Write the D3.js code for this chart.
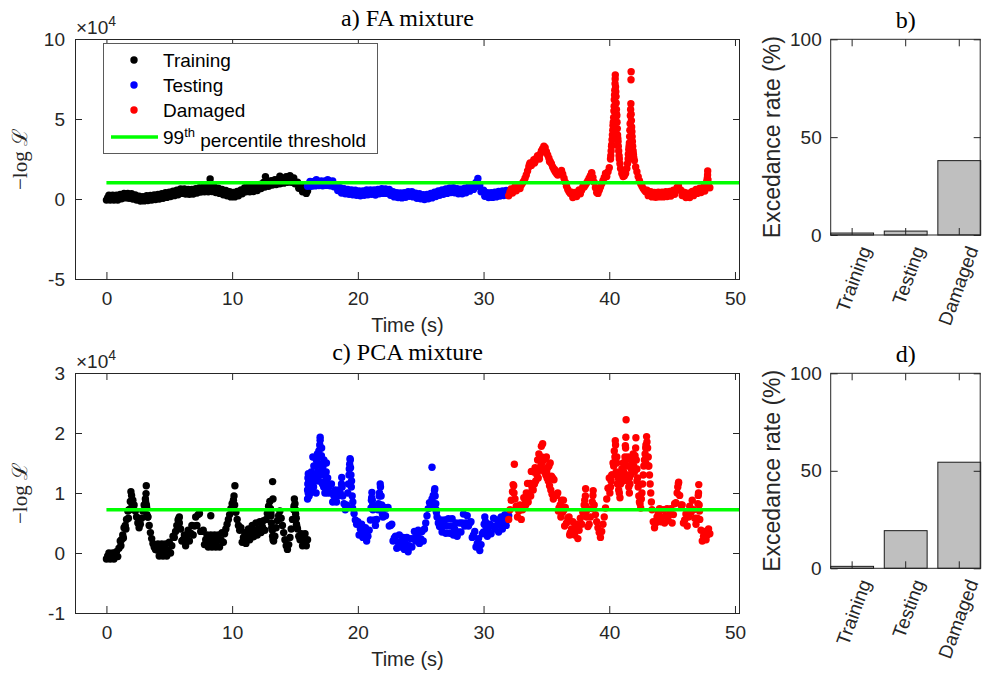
<!DOCTYPE html>
<html>
<head>
<meta charset="utf-8">
<script src="https://cdn.jsdelivr.net/npm/d3@7"></script>
<style>
  body { margin: 0; background: #fff; }
  svg { display: block; }
  .tick text { font-family: "Liberation Sans", Arial, Helvetica, sans-serif; font-size: 19px; fill: #262626; }
</style>
</head>
<body>
<svg id="fig" width="982" height="683"></svg>
<script>
// ---- axis ticks and categories ----
const timeTicks = [0, 10, 20, 30, 40, 50];
const faTicks = [-5, 0, 5, 10];
const pcaTicks = [-1, 0, 1, 2, 3];
const rateTicks = [0, 50, 100];
const groups = ["Training", "Testing", "Damaged"];
const segmentStart = { Training: 0, Testing: 16, Damaged: 32 };   // s
const sampleStep = 0.1;                                           // s

// ---- exceedance rates (%) ----
const faRates = [1, 2, 38];
const pcaRates = [1, 19.3, 54.4];

// ---- 99th percentile thresholds (x 10^4) ----
const faThreshold = 1.02;
const pcaThreshold = 0.72;

// ---- FA mixture: -log L (x 10^4), one value per 0.1 s ----
const faTrainingSamples = [
  -0.07,0.08,0.23,-0.07,0.08,0.23,-0.07,0.08,0.23,-0.07,
  0.12,0.29,0.01,0.18,0.35,0.07,0.22,0.35,0.05,0.2,
  0.33,0.0,0.12,0.25,-0.07,0.05,0.18,-0.13,0.0,0.15,
  -0.12,0.04,0.2,-0.1,0.06,0.22,-0.07,0.09,0.25,-0.03,
  0.13,0.29,0.0,0.17,0.33,0.05,0.22,0.39,0.1,0.27,
  0.43,0.15,0.32,0.49,0.21,0.38,0.55,0.27,0.45,0.63,
  0.35,0.5,0.63,0.31,0.46,0.6,0.29,0.44,0.6,0.31,
  0.48,0.65,0.37,0.54,0.71,0.43,0.58,0.73,0.45,0.6,
  0.75,0.45,0.6,0.77,0.47,0.6,0.73,0.41,0.54,0.67,
  0.35,0.48,0.6,0.27,0.4,0.53,0.2,0.32,0.45,0.13,
  0.26,0.41,0.13,0.3,0.47,0.2,0.38,0.57,0.33,0.52,
  0.71,0.45,0.62,0.77,0.45,0.58,0.75,0.47,0.64,0.81,
  0.53,0.72,0.91,0.65,0.84,1.03,0.75,0.9,1.07,0.8,
  0.98,1.15,0.87,1.04,1.2,0.91,1.08,1.25,0.95,1.1,
  1.27,0.99,1.16,1.33,1.05,1.2,1.35,1.05,1.18,1.31,
  0.95,1.0,1.05,0.67,0.74,0.81,0.45,0.56,0.67,0.35,
  0.5
];
const faTrainingExtra = [[8.25,1.25],[12.65,1.4],[13.8,1.42],[14.3,1.4],[14.6,1.45]];

const faTestingSamples = [
  0.8,0.95,1.1,0.8,0.95,1.1,0.82,0.97,1.12,0.84,
  0.98,1.13,0.83,0.98,1.13,0.85,1.0,1.15,0.83,0.98,
  1.13,0.77,0.85,0.9,0.53,0.62,0.71,0.37,0.5,0.65,
  0.33,0.46,0.6,0.29,0.43,0.57,0.27,0.42,0.55,0.23,
  0.36,0.5,0.2,0.36,0.51,0.23,0.4,0.57,0.27,0.42,
  0.57,0.29,0.44,0.57,0.25,0.42,0.6,0.33,0.5,0.65,
  0.35,0.48,0.63,0.35,0.48,0.59,0.23,0.32,0.45,0.13,
  0.26,0.4,0.09,0.24,0.38,0.07,0.22,0.39,0.11,0.28,
  0.45,0.17,0.32,0.45,0.13,0.25,0.37,0.05,0.2,0.33,
  0.01,0.14,0.27,-0.03,0.12,0.29,0.01,0.18,0.35,0.07,
  0.25,0.43,0.15,0.32,0.5,0.23,0.4,0.57,0.29,0.46,
  0.63,0.35,0.52,0.69,0.4,0.55,0.7,0.39,0.52,0.65,
  0.33,0.46,0.61,0.33,0.5,0.67,0.39,0.56,0.75,0.49,
  0.68,0.87,0.6,0.8,1.03,0.8,0.85,0.87,0.45,0.5,
  0.55,0.17,0.26,0.39,0.09,0.24,0.39,0.1,0.26,0.42,
  0.13,0.3,0.47,0.19,0.35,0.51,0.22,0.38,0.54,0.25,
  0.4
];
const faTestingExtra = [[16.7,1.2],[17.6,1.2],[29.55,1.28]];

const faDamagedSamples = [
  0.2,0.42,0.63,0.37,0.58,0.77,0.51,0.7,0.9,0.65,
  0.88,1.0,1.12,1.3,1.5,1.75,2.0,2.25,2.1,2.3,
  2.45,2.35,2.55,2.7,2.6,2.8,3.0,3.15,3.3,3.2,
  2.95,2.75,2.55,2.35,2.2,2.0,1.85,1.7,1.6,1.5,
  1.55,1.65,1.72,1.55,1.3,1.05,0.8,0.6,0.45,0.35,
  0.43,0.09,0.24,0.41,0.15,0.36,0.57,0.33,0.55,0.77,
  0.75,0.88,1.0,1.15,1.3,1.45,1.6,1.35,1.05,0.7,
  0.4,0.35,0.55,0.75,0.95,1.15,1.35,1.6,1.4,1.7,
  1.95,2.5,3.4,4.6,6.2,7.0,5.2,3.6,2.5,1.9,
  1.6,1.4,1.45,1.6,1.9,2.5,3.5,5.6,4.2,3.0,
  2.4,2.0,1.7,1.4,1.15,0.95,0.8,0.65,0.55,0.45,
  0.55,0.21,0.32,0.45,0.13,0.26,0.41,0.11,0.27,0.43,
  0.13,0.28,0.43,0.13,0.28,0.45,0.15,0.3,0.47,0.19,
  0.36,0.55,0.3,0.5,0.72,0.85,0.6,0.55,0.22,0.3,
  0.41,0.09,0.22,0.37,0.09,0.28,0.47,0.21,0.4,0.6,
  0.35,0.52,0.67,0.4,0.58,0.75,0.5,0.9,1.3,0.95,
  0.7
];
const faDamagedExtra = [
  [40.12,2.7],[40.15,3.0],[40.18,3.3],[40.22,3.7],[40.25,4.0],[40.28,4.3],[40.32,4.8],[40.35,5.1],[40.37,5.5],[40.39,5.8],
  [40.42,6.5],[40.44,6.8],[40.46,7.2],[40.47,7.5],[40.48,7.75],[40.52,6.7],[40.54,6.4],[40.55,6.0],[40.57,5.6],[40.58,5.3],
  [40.62,4.8],[40.64,4.4],[40.66,4.0],[40.68,3.8],[40.72,3.3],[40.75,3.0],[40.78,2.7],[40.85,2.2],
  [41.45,2.2],[41.52,2.8],[41.55,3.1],[41.58,3.3],[41.62,3.9],[41.64,4.3],[41.66,4.7],[41.68,5.2],[41.72,5.95],
  [41.73,7.45],[41.74,7.95],[41.74,5.3],[41.76,4.9],[41.78,4.5],[41.82,3.9],[41.84,3.6],[41.86,3.3],[41.92,2.8],[41.95,2.6],
  [47.75,1.1],[47.82,1.5],[47.83,1.75],[47.85,1.2],[36.2,1.78],[38.6,1.65],
  [33.65,2.15],[34.05,2.25],[34.45,2.5],[34.85,2.95],[35.25,2.35],[35.65,1.85]
];

// ---- PCA mixture: -log L (x 10^4), one value per 0.1 s ----
const pcaTrainingSamples = [
  -0.1,-0.05,0.0,-0.1,-0.05,0.0,-0.1,-0.05,0.02,-0.06,
  0.08,0.2,0.22,0.3,0.42,0.46,0.56,0.7,0.72,0.86,
  0.96,0.88,0.8,0.7,0.6,0.5,0.42,0.48,0.58,0.7,
  0.8,0.9,0.76,0.6,0.46,0.34,0.24,0.16,0.1,0.06,
  0.05,0.15,-0.05,0.05,0.15,-0.05,0.05,0.15,-0.05,0.05,
  0.18,0.0,0.12,0.28,0.26,0.36,0.46,0.55,0.5,0.4,
  0.2,0.22,0.3,0.12,0.25,0.38,0.2,0.33,0.46,0.3,
  0.45,0.6,0.46,0.64,0.66,0.36,0.36,0.38,0.14,0.22,
  0.3,0.1,0.2,0.3,0.1,0.2,0.3,0.1,0.2,0.3,
  0.1,0.22,0.34,0.18,0.32,0.4,0.48,0.56,0.64,0.74,
  0.82,0.88,0.8,0.68,0.56,0.46,0.38,0.42,0.18,0.26,
  0.34,0.16,0.28,0.4,0.22,0.34,0.46,0.27,0.38,0.5,
  0.3,0.4,0.52,0.34,0.44,0.54,0.38,0.56,0.66,0.78,
  0.86,0.62,0.38,0.2,0.28,0.42,0.54,0.62,0.7,0.58,
  0.46,0.34,0.22,0.12,0.06,0.14,0.26,0.4,0.56,0.72,
  0.82,0.58,0.4,0.28,0.22,0.32,0.12,0.22,0.32,0.12,
  0.22
];
const pcaTrainingExtra = [
  [1.15,0.12],[1.35,0.25],[1.55,0.4],[1.75,0.58],[1.85,0.72],[1.95,1.02],[1.98,0.75],[2.05,0.88],
  [3.12,0.85],[3.15,0.99],[3.17,1.12],[3.18,0.8],[3.22,0.64],[3.28,0.6],[5.75,0.57],[5.8,0.6],[8.3,0.62],
  [10.15,0.95],[10.22,1.12],[13.05,0.74],[13.08,0.68],[13.12,0.5],[13.15,0.42],[13.22,1.19],[13.25,0.9],
  [13.22,0.28],[13.25,0.22],[14.92,0.78],[14.95,0.9],[15.03,0.72],[15.05,0.65],[15.12,0.48],[15.15,0.44]
];

const pcaTestingSamples = [
  0.9,1.2,1.05,1.35,1.15,1.45,1.25,1.55,1.35,1.7,
  1.88,1.62,1.42,1.55,1.3,1.5,1.25,1.1,1.0,1.15,
  0.85,0.95,1.05,0.85,0.95,1.05,1.0,1.15,0.95,0.82,
  0.72,0.8,1.0,1.3,1.55,1.2,0.85,0.66,0.55,0.48,
  0.52,0.3,0.4,0.48,0.26,0.34,0.42,0.2,0.28,0.38,
  0.55,0.92,0.72,0.55,0.46,0.56,0.72,0.95,1.1,0.8,
  0.6,0.76,0.62,0.75,0.76,0.45,0.46,0.48,0.2,0.25,
  0.28,0.08,0.18,0.3,0.1,0.2,0.26,0.06,0.16,0.26,
  0.02,0.12,0.24,0.1,0.24,0.36,0.2,0.3,0.38,0.16,
  0.24,0.36,0.2,0.4,0.5,0.62,0.74,0.84,0.8,0.9,
  0.96,1.04,0.82,0.6,0.5,0.44,0.55,0.35,0.45,0.55,
  0.33,0.45,0.57,0.33,0.45,0.57,0.3,0.4,0.5,0.28,
  0.35,0.5,0.35,0.5,0.65,0.45,0.5,0.62,0.45,0.5,
  0.52,0.26,0.3,0.36,0.1,0.16,0.24,0.04,0.14,0.32,
  0.35,0.6,0.44,0.28,0.36,0.48,0.32,0.45,0.58,0.4,
  0.45,0.55,0.35,0.48,0.6,0.4,0.52,0.64,0.46,0.6,
  0.62
];
const pcaTestingExtra = [
  [16.0,1.05],[16.02,1.15],[16.03,1.25],[16.05,1.0],[16.06,1.32],[16.08,1.3],[16.12,0.95],[16.17,1.2],[16.22,1.0],[16.28,1.25],
  [16.32,1.05],[16.38,1.3],[16.42,1.6],[16.48,1.1],[16.52,1.3],[16.58,1.2],[16.62,1.45],[16.68,1.0],[16.72,1.3],[16.78,1.65],
  [16.82,1.5],[16.88,1.2],[16.92,1.6],[16.97,1.8],[17.0,1.93],[17.02,1.75],[17.05,1.45],[17.08,1.3],[17.12,1.75],[17.18,1.15],
  [17.22,1.45],[17.28,1.1],[17.32,1.35],[17.38,1.0],[17.42,1.2],[17.48,1.35],[17.52,1.1],[17.58,1.0],
  [18.72,1.26],[18.75,1.1],[19.25,1.15],[19.32,1.4],[19.35,1.48],[19.38,1.57],[19.42,1.42],[19.45,1.3],[19.48,1.1],[19.55,0.95],
  [19.58,0.75],[21.05,0.75],[21.08,0.88],[21.12,1.01],[21.15,0.88],[21.18,0.8],[21.65,0.82],[21.72,1.0],[21.78,1.15],[21.85,0.95],
  [21.92,0.7],[21.95,0.65],[25.9,1.43],[26.12,1.07],[26.15,0.95],[26.22,0.72],[26.25,0.68],[30.05,0.48],[30.15,0.52]
];

const pcaDamagedSamples = [
  0.56,0.72,0.88,1.02,1.12,0.9,0.78,0.6,0.7,0.8,
  0.56,0.72,0.92,0.82,1.0,1.16,0.94,1.16,1.36,1.12,
  1.35,1.42,1.35,1.55,1.65,1.55,1.78,1.82,1.55,1.58,
  1.6,1.42,1.45,1.5,1.28,1.25,1.22,0.95,0.96,1.0,
  0.75,0.8,0.88,0.68,0.72,0.76,0.5,0.58,0.6,0.34,
  0.4,0.52,0.36,0.44,0.48,0.24,0.38,0.58,0.48,0.68,
  0.8,0.95,0.6,0.44,0.48,0.6,0.74,0.96,0.8,0.64,
  0.52,0.42,0.34,0.26,0.36,0.48,0.6,0.75,0.9,1.08,
  1.25,1.1,1.3,1.5,1.7,1.8,1.5,1.25,1.0,1.15,
  1.4,1.2,1.45,1.75,1.45,1.2,1.0,1.3,1.55,1.35,
  1.6,1.75,1.4,1.1,0.85,0.75,1.0,1.3,1.55,1.75,
  1.85,1.6,1.3,1.0,0.72,0.52,0.42,0.5,0.6,0.66,
  0.74,0.52,0.6,0.72,0.5,0.62,0.74,0.54,0.64,0.74,
  0.5,0.64,0.82,0.84,1.0,1.16,0.96,0.8,0.8,0.5,
  0.55,0.65,0.45,0.6,0.78,0.68,0.88,0.72,0.58,0.48,
  0.58,1.0,0.56,0.38,0.2,0.28,0.36,0.22,0.3,0.4,
  0.32
];
const pcaDamagedExtra = [
  [32.45,1.48],[32.35,1.14],[32.42,1.0],
  [33.35,0.8],[33.45,0.9],[33.55,0.85],[33.65,1.0],[33.75,0.95],[33.85,1.1],[33.95,1.05],[34.05,1.15],[34.15,1.2],
  [34.25,1.3],[34.35,1.25],[34.45,1.38],[34.55,1.45],[34.65,1.5],[34.75,1.4],[34.85,1.35],[34.95,1.3],[35.05,1.25],
  [35.15,1.2],[35.25,1.12],[35.35,1.05],[35.45,0.98],[35.55,0.9],[34.62,1.6],[34.52,1.55],[34.72,1.55],[35.02,1.35],[34.32,1.38],
  [35.95,0.7],[36.15,0.6],[36.35,0.88],[36.45,0.45],[36.85,0.3],[37.25,0.3],
  [38.05,0.88],[38.12,1.07],[38.15,0.78],[38.18,0.7],[38.65,0.85],[38.72,1.04],
  [40.05,1.0],[40.15,1.2],[40.25,1.3],[40.35,1.45],[40.45,1.6],[40.48,1.87],[40.55,1.35],[40.65,1.15],[40.75,1.05],[40.85,0.92],
  [40.95,1.3],[41.05,1.25],[41.15,1.35],[41.25,1.6],[41.28,1.79],[41.32,1.93],[41.34,2.22],[41.35,1.55],[41.45,1.3],[41.55,1.1],
  [41.65,1.15],[41.75,1.4],[41.85,1.5],[41.95,1.45],[42.05,1.62],[42.12,1.92],[42.15,1.55],[42.25,1.25],[42.35,0.95],[42.45,0.82],
  [42.55,0.9],[42.65,1.15],[42.75,1.45],[42.85,1.65],[42.92,1.8],[42.97,1.94],[43.05,1.75],[43.15,1.45],[43.25,1.15],[43.35,0.85],
  [41.1,1.5],[41.6,1.25],[42.0,1.35],[42.2,1.2],[40.6,1.6],[41.9,1.65],[41.5,1.6],[40.4,1.5],[42.9,1.5],[43.1,1.45],
  [45.45,1.1],[45.52,1.18],[47.05,0.82],[47.08,0.96],[47.12,1.14],[47.15,0.8],[47.18,0.7]
];

// ---- styling ----
const AXIS = "#262626";
const SANS = "'Liberation Sans', Arial, Helvetica, sans-serif";
const SERIF = "'Liberation Serif', 'DejaVu Serif', 'Times New Roman', serif";
const colors = { Training: "#000000", Testing: "#0000ff", Damaged: "#ff0000" };
const THRESH = "#00ff00";
const R = 3.7;

// sampled values -> [t, value] pairs, plus the extra observations
function observations(name, samples, extra) {
  return samples.map((v, i) => [segmentStart[name] + i * sampleStep, v]).concat(extra);
}

const svg = d3.select("#fig");
const xTime = d3.scaleLinear().domain([-2.5, 50.4]).range([75, 740]);

function styleAxis(g, hideLabels) {
  g.select(".domain").remove();
  g.selectAll(".tick line").attr("stroke", AXIS);
  if (hideLabels) g.selectAll(".tick text").remove();
}

function timePanel(cfg) {
  const [top, bottom] = cfg.yRange;
  const y = d3.scaleLinear().domain(cfg.yDomain).range([bottom, top]);
  const left = xTime.range()[0], right = xTime.range()[1];
  const g = svg.append("g");
  const clipId = "clip-" + cfg.id;
  g.append("clipPath").attr("id", clipId).append("rect")
    .attr("x", left).attr("y", top).attr("width", right - left).attr("height", bottom - top);

  // scatter of the three data sets
  const pts = g.append("g").attr("clip-path", `url(#${clipId})`);
  cfg.series.forEach(s => {
    pts.append("g").attr("fill", colors[s.name])
      .selectAll("circle").data(s.data).join("circle")
      .attr("cx", d => xTime(d[0])).attr("cy", d => y(d[1])).attr("r", R);
  });
  // threshold line
  pts.append("line")
    .attr("x1", xTime(0)).attr("x2", xTime(xTime.domain()[1]))
    .attr("y1", y(cfg.threshold)).attr("y2", y(cfg.threshold))
    .attr("stroke", THRESH).attr("stroke-width", 3.6);

  // axes (ticks inside, mirrored on top/right)
  g.append("g").attr("transform", `translate(0,${bottom})`)
    .call(d3.axisBottom(xTime).tickValues(timeTicks).tickSize(-7).tickPadding(13).tickFormat(d => String(d)))
    .call(a => styleAxis(a, false));
  g.append("g").attr("transform", `translate(0,${top})`)
    .call(d3.axisTop(xTime).tickValues(timeTicks).tickSize(-7))
    .call(a => styleAxis(a, true));
  g.append("g").attr("transform", `translate(${left},0)`)
    .call(d3.axisLeft(y).tickValues(cfg.yTicks).tickSize(-7).tickPadding(10).tickFormat(d => String(d)))
    .call(a => styleAxis(a, false));
  g.append("g").attr("transform", `translate(${right},0)`)
    .call(d3.axisRight(y).tickValues(cfg.yTicks).tickSize(-7))
    .call(a => styleAxis(a, true));
  g.append("rect").attr("x", left + 0.5).attr("y", top + 0.5)
    .attr("width", right - left - 1).attr("height", bottom - top)
    .attr("fill", "none").attr("stroke", AXIS).attr("stroke-width", 1);

  // exponent marker
  const ex = g.append("text").attr("x", left + 1).attr("y", top - 5)
    .attr("font-family", SANS).attr("font-size", 19).attr("fill", AXIS);
  ex.append("tspan").text("\u00d710");
  ex.append("tspan").attr("dy", -8).attr("font-size", 14).text("4");

  // labels
  g.append("text").attr("x", (left + right) / 2).attr("y", bottom + 53)
    .attr("text-anchor", "middle").attr("font-family", SANS).attr("font-size", 20)
    .attr("fill", AXIS).text("Time (s)");
  g.append("text").attr("transform", `translate(27,${(top + bottom) / 2}) rotate(-90)`)
    .attr("text-anchor", "middle").attr("font-family", SERIF).attr("font-size", 21)
    .attr("fill", AXIS).text("\u2212log \u2112");
  g.append("text").attr("x", (left + right) / 2).attr("y", top - 13)
    .attr("text-anchor", "middle").attr("font-family", SERIF).attr("font-size", 24)
    .attr("fill", "#000").text(cfg.title);
  return { g, y };
}

function ratePanel(cfg) {
  const [top, bottom] = cfg.yRange;
  const left = 830.7, right = 980.7;
  const x = d3.scaleBand().domain(groups).range([left, right]).paddingInner(0.2).paddingOuter(0);
  const y = d3.scaleLinear().domain([0, 100]).range([bottom, top]);
  const g = svg.append("g");

  g.append("g").selectAll("rect").data(cfg.rates).join("rect")
    .attr("x", (d, i) => x(groups[i])).attr("width", x.bandwidth())
    .attr("y", d => y(d)).attr("height", d => y(0) - y(d))
    .attr("fill", "#bfbfbf").attr("stroke", "#1a1a1a").attr("stroke-width", 1);

  const bot = g.append("g").attr("transform", `translate(0,${bottom})`)
    .call(d3.axisBottom(x).tickSize(-7).tickPadding(0))
    .call(a => styleAxis(a, false));
  bot.selectAll(".tick text")
    .attr("text-anchor", "end").attr("dy", "0.35em")
    .attr("transform", "translate(13,12) rotate(-70)")
    .attr("y", 0).attr("x", 0);
  g.append("g").attr("transform", `translate(0,${top})`)
    .call(d3.axisTop(x).tickSize(-7))
    .call(a => styleAxis(a, true));
  g.append("g").attr("transform", `translate(${left},0)`)
    .call(d3.axisLeft(y).tickValues(rateTicks).tickSize(-7).tickPadding(9))
    .call(a => styleAxis(a, false));
  g.append("g").attr("transform", `translate(${right},0)`)
    .call(d3.axisRight(y).tickValues(rateTicks).tickSize(-7))
    .call(a => styleAxis(a, true));
  g.append("rect").attr("x", left).attr("y", top)
    .attr("width", right - left - 0.5).attr("height", bottom - top)
    .attr("fill", "none").attr("stroke", AXIS).attr("stroke-width", 1);

  g.append("text").attr("transform", `translate(780,${(top + bottom) / 2}) rotate(-90)`)
    .attr("text-anchor", "middle").attr("font-family", SANS).attr("font-size", 23)
    .attr("fill", AXIS).text("Excedance rate (%)");
  g.append("text").attr("x", (left + right) / 2).attr("y", top - 11)
    .attr("text-anchor", "middle").attr("font-family", SERIF).attr("font-size", 24)
    .attr("fill", "#000").text(cfg.title);
}

// a) FA mixture
timePanel({
  id: "fa", yRange: [39, 279], yDomain: [-5, 10], yTicks: faTicks, threshold: faThreshold,
  title: "a) FA mixture",
  series: [
    { name: "Training", data: observations("Training", faTrainingSamples, faTrainingExtra) },
    { name: "Testing", data: observations("Testing", faTestingSamples, faTestingExtra) },
    { name: "Damaged", data: observations("Damaged", faDamagedSamples, faDamagedExtra) }
  ]
});
// c) PCA mixture
timePanel({
  id: "pca", yRange: [373, 613], yDomain: [-1, 3], yTicks: pcaTicks, threshold: pcaThreshold,
  title: "c) PCA mixture",
  series: [
    { name: "Training", data: observations("Training", pcaTrainingSamples, pcaTrainingExtra) },
    { name: "Testing", data: observations("Testing", pcaTestingSamples, pcaTestingExtra) },
    { name: "Damaged", data: observations("Damaged", pcaDamagedSamples, pcaDamagedExtra) }
  ]
});
// b), d) exceedance rates
ratePanel({ yRange: [39.3, 235], rates: faRates, title: "b)" });
ratePanel({ yRange: [373.3, 568.3], rates: pcaRates, title: "d)" });

// legend (panel a)
const legend = svg.append("g");
legend.append("rect").attr("x", 103.5).attr("y", 43.5).attr("width", 274).attr("height", 110)
  .attr("fill", "#fff").attr("stroke", "#5a5a5a").attr("stroke-width", 1);
const rows = [60, 85, 110, 137];
groups.forEach((name, i) => {
  legend.append("circle").attr("cx", 134).attr("cy", rows[i]).attr("r", R).attr("fill", colors[name]);
  legend.append("text").attr("x", 163).attr("y", rows[i]).attr("dy", "0.35em")
    .attr("font-family", SANS).attr("font-size", 19).attr("fill", "#000").text(name);
});
legend.append("line").attr("x1", 111).attr("x2", 158).attr("y1", rows[3]).attr("y2", rows[3])
  .attr("stroke", THRESH).attr("stroke-width", 3.6);
const lt = legend.append("text").attr("x", 163).attr("y", rows[3]).attr("dy", "0.35em")
  .attr("font-family", SANS).attr("font-size", 19).attr("fill", "#000");
lt.append("tspan").text("99");
lt.append("tspan").attr("dy", "-0.55em").attr("font-size", 13).text("th");
lt.append("tspan").attr("dy", "0.55em").text(" percentile threshold");
</script>
</body>
</html>
